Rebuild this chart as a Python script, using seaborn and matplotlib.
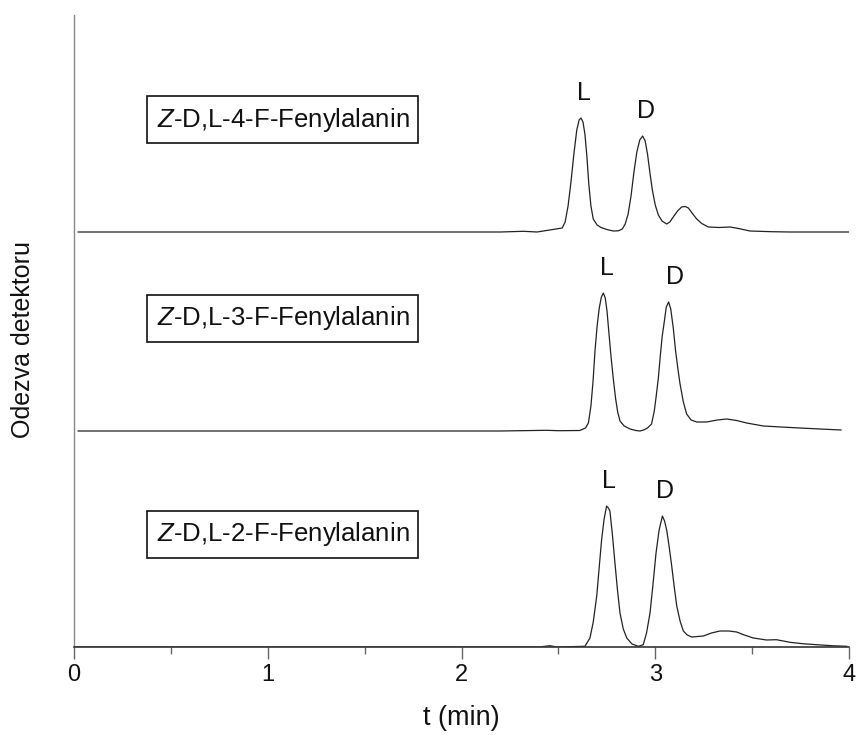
import numpy as np
import pandas as pd
import matplotlib
matplotlib.use("Agg")
import matplotlib.pyplot as plt
import seaborn as sns

# chromatograms (time in min, response in arbitrary units)
SAMPLES = [r"$\mathit{Z}$-D,L-4-F-Fenylalanin",
           r"$\mathit{Z}$-D,L-3-F-Fenylalanin",
           r"$\mathit{Z}$-D,L-2-F-Fenylalanin"]

t_4f = [0.02, 2.20, 2.32, 2.39, 2.52, 2.535, 2.55, 2.565, 2.58, 2.595, 2.607, 2.617, 2.627,
        2.637, 2.647, 2.657, 2.668, 2.68, 2.70, 2.72, 2.75, 2.783, 2.81, 2.83, 2.845, 2.86,
        2.875, 2.89, 2.905, 2.92, 2.935, 2.948, 2.96, 2.972, 2.985, 3.0, 3.016, 3.035, 3.059,
        3.075, 3.093, 3.115, 3.136, 3.155, 3.171, 3.19, 3.214, 3.24, 3.274, 3.33, 3.386, 3.43,
        3.489, 3.6, 3.695, 4.0]
r_4f = [0, 0, 0.7, 0, 4, 10, 26, 50, 78, 102, 112, 114, 110,
        98, 76, 48, 26, 13, 7, 4.5, 2.5, 1, 1.2, 3, 8, 18,
        36, 60, 80, 92, 96, 91, 78, 60, 42, 27, 17, 11, 8,
        10, 15, 21, 25, 25.5, 24, 19, 13, 8.5, 5, 4.5, 5, 3.5,
        1, 0.3, 0, 0]

t_3f = [0.02, 2.20, 2.44, 2.50, 2.61, 2.64, 2.655, 2.668, 2.679, 2.689, 2.70, 2.711, 2.722,
        2.732, 2.742, 2.751, 2.76, 2.77, 2.783, 2.795, 2.806, 2.818, 2.84, 2.87, 2.90, 2.921,
        2.94, 2.96, 2.981, 2.995, 3.005, 3.016, 3.026, 3.036, 3.045, 3.057, 3.069, 3.08, 3.093,
        3.105, 3.117, 3.128, 3.145, 3.162, 3.185, 3.214, 3.265, 3.32, 3.369, 3.42, 3.472, 3.558,
        3.65, 3.747, 3.85, 3.96]
r_3f = [0, 0, 0.7, 0.3, 0.5, 3, 8, 25, 50, 80, 105, 123, 134,
        138, 133, 120, 100, 78, 53, 33, 19, 10, 5, 2, 0.5, 0,
        1, 3, 7, 20, 35, 53, 75, 95, 107, 124, 129, 122, 103,
        80, 62, 47, 29, 17, 11, 9, 9, 11, 12, 10.5, 8, 5,
        4, 3, 2, 1]

t_2f = [0.0, 2.20, 2.40, 2.457, 2.49, 2.637, 2.663, 2.68, 2.698, 2.71, 2.723, 2.736, 2.749,
        2.758, 2.766, 2.779, 2.792, 2.805, 2.818, 2.835, 2.853, 2.88, 2.913, 2.938, 2.955,
        2.973, 2.988, 3.004, 3.02, 3.037, 3.048, 3.059, 3.072, 3.085, 3.098, 3.111, 3.128,
        3.145, 3.165, 3.188, 3.248, 3.29, 3.334, 3.38, 3.42, 3.46, 3.506, 3.575, 3.626, 3.695,
        3.76, 3.833, 3.92, 3.99]
r_2f = [0, 0, 0, 1.3, 0, 0.7, 9, 25, 51, 78, 107, 128, 141,
        139, 136, 112, 84, 57, 34, 18, 9, 3, 0.7, 2.3, 14,
        34, 62, 94, 117, 131, 126, 117, 100, 81, 60, 41, 26,
        16, 12, 10, 11, 14, 16, 16, 15, 12, 9, 7, 7.3, 4.7,
        3.3, 2.3, 1.2, 0.7]

# peak labels (enantiomer, approx. retention time)
PEAK_NAMES = ["L", "D"]
peaks_4f = [2.63, 2.95]
peaks_3f = [2.75, 3.10]
peaks_2f = [2.76, 3.05]

TIMES = [t_4f, t_3f, t_2f]
RESP = [r_4f, r_3f, r_2f]
PEAKS = [peaks_4f, peaks_3f, peaks_2f]

# vertical stacking of the traces
OFFSETS = [415, 216, 0]
LINE = '#222222'
INK = '#111111'

sns.set_theme(style="white")
plt.rcParams['font.family'] = ['Liberation Sans', 'DejaVu Sans']
plt.rcParams['mathtext.fontset'] = 'custom'
plt.rcParams['mathtext.it'] = 'Liberation Sans:italic'
plt.rcParams['mathtext.rm'] = 'Liberation Sans'

fig = plt.figure(figsize=(8.59, 7.35), dpi=100)
ax = fig.add_axes([74 / 859, 88 / 735, 775 / 859, 632 / 735])

for name, t, r, pk, off in zip(SAMPLES, TIMES, RESP, PEAKS, OFFSETS):
    df = pd.DataFrame({'t': t, 'y': np.array(r) + off})
    sns.lineplot(data=df, x='t', y='y', sort=False, estimator=None,
                 color=LINE, lw=0.9, ax=ax)
    ta = np.array(t)
    ra = np.array(r)
    for lab, tp in zip(PEAK_NAMES, pk):
        near = np.abs(ta - tp) < 0.06
        ytop = ra[near].max() + off
        ax.text(tp, ytop + 25, lab, ha='center', va='center', fontsize=18, color=INK)
    ax.text(1.078, off + 112.5, name, ha='center', va='center', fontsize=18.5, color=INK,
            bbox=dict(boxstyle='square,pad=0.36', fc='white', ec=INK, lw=1.2))

ax.set_xlim(0, 4)
ax.set_ylim(0, 632)
ax.set_xticks([0, 1, 2, 3, 4])
ax.set_xticks([0.5, 1.5, 2.5, 3.5], minor=True)
ax.set_yticks([])
ax.tick_params(axis='x', which='major', direction='out', length=8.5, width=1,
               color='#666666', labelsize=17, labelcolor=INK, pad=4, bottom=True)
ax.tick_params(axis='x', which='minor', direction='out', length=5, width=1,
               color='#666666', bottom=True)

for side in ['top', 'right']:
    ax.spines[side].set_visible(False)
ax.spines['left'].set_color('#888888')
ax.spines['left'].set_linewidth(1.0)
ax.spines['bottom'].set_color('#333333')
ax.spines['bottom'].set_linewidth(1.2)

ax.set_xlabel("t (min)", fontsize=19.5, color=INK)
ax.xaxis.label.set_verticalalignment('center')
ax.xaxis.set_label_coords(0.5, -0.113)
ax.set_ylabel("Odezva detektoru", fontsize=18, color=INK)
ax.yaxis.label.set_verticalalignment('center')
ax.yaxis.set_label_coords(-0.066, 0.486)

fig.savefig("out.png", dpi=100)
